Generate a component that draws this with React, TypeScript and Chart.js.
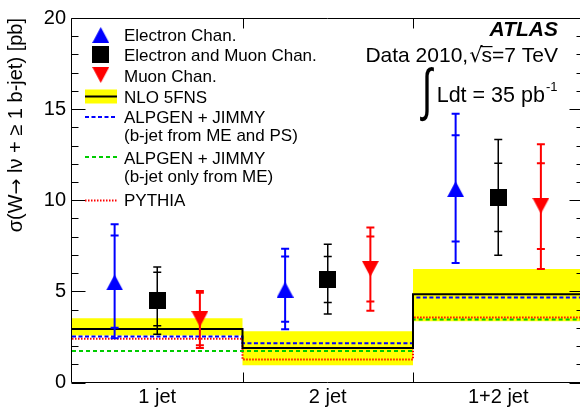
import React, { useEffect, useRef } from 'react';
import { Chart, registerables } from 'chart.js';

Chart.register(...registerables);

const FONT = '"Liberation Sans", Arial, Helvetica, sans-serif';
const SYMBOL_FONT = '"DejaVu Sans", "Liberation Sans", sans-serif';

// ---------- data ----------
const categories = ['1 jet', '2 jet', '1+2 jet'];
const binEdges = [0, 1, 2, 3];
const binCenters = [0.5, 1.5, 2.5];

const electronValues = [5.49, 5.09, 10.61];
const electronStatLow = [3.0, 3.34, 7.74];
const electronStatHigh = [8.06, 6.92, 13.56];
const electronTotalLow = [2.43, 2.92, 6.56];
const electronTotalHigh = [8.68, 7.34, 14.74];

const combinedValues = [4.5, 5.66, 10.14];
const combinedStatLow = [3.12, 4.39, 8.28];
const combinedStatHigh = [6.05, 6.92, 12.03];
const combinedTotalLow = [2.65, 3.76, 6.98];
const combinedTotalHigh = [6.34, 7.59, 13.34];

const muonValues = [3.49, 6.24, 9.7];
const muonStatLow = [2.05, 4.44, 7.32];
const muonStatHigh = [4.93, 8.01, 12.03];
const muonTotalLow = [1.89, 3.94, 6.23];
const muonTotalHigh = [5.02, 8.51, 13.07];

const nloCentral = [2.94, 1.89, 4.84];
const nloLow = [2.58, 0.95, 3.36];
const nloHigh = [3.52, 2.81, 6.23];
const alpgenMePs = [2.52, 2.16, 4.66];
const alpgenMe = [1.73, 1.73, 3.45];
const pythia = [2.4, 1.26, 3.57];

const yMin = 0;
const yMax = 20;
const yMajorStep = 5;
const yMinorStep = 1;

const legendLabels = [
  'Electron Chan.',
  'Electron and Muon Chan.',
  'Muon Chan.',
  'NLO 5FNS',
  'ALPGEN + JIMMY',
  '(b-jet from ME and PS)',
  'ALPGEN + JIMMY',
  '(b-jet only from ME)',
  'PYTHIA',
];

// y-axis title pieces: [text, useSymbolFont]
const yTitleParts: [string, boolean][] = [
  ['\u03C3(W', false],
  ['\u2192', true],
  [' l\u03BD + \u2265 1 b-jet) [pb]', false],
];

// ---------- helpers ----------
function toSteps(vals: number[]) {
  return binEdges.map((x, i) => ({ x, y: vals[Math.min(i, vals.length - 1)] }));
}

function makeMarker(shape: 'up' | 'down' | 'square', color: string) {
  const c = document.createElement('canvas');
  const w = 17;
  const h = shape === 'square' ? 17 : 16;
  c.width = w;
  c.height = h;
  const g = c.getContext('2d')!;
  g.fillStyle = color;
  g.beginPath();
  if (shape === 'up') {
    g.moveTo(w / 2, 0);
    g.lineTo(w, h);
    g.lineTo(0, h);
  } else if (shape === 'down') {
    g.moveTo(0, 0);
    g.lineTo(w, 0);
    g.lineTo(w / 2, h);
  } else {
    g.rect(0, 0, w, h);
  }
  g.closePath();
  g.fill();
  return c;
}

export default function App() {
  const canvasRef = useRef<HTMLCanvasElement | null>(null);

  useEffect(() => {
    const canvas = canvasRef.current;
    if (!canvas) return;

    const triUp = makeMarker('up', '#0000ff');
    const square = makeMarker('square', '#000000');
    const triDown = makeMarker('down', '#ff0000');

    const channels = [
      { values: electronValues, sl: electronStatLow, sh: electronStatHigh, tl: electronTotalLow, th: electronTotalHigh, color: '#0000ff', lw: 2, offset: -0.25, img: triUp },
      { values: combinedValues, sl: combinedStatLow, sh: combinedStatHigh, tl: combinedTotalLow, th: combinedTotalHigh, color: '#000000', lw: 1.5, offset: 0, img: square },
      { values: muonValues, sl: muonStatLow, sh: muonStatHigh, tl: muonTotalLow, th: muonTotalHigh, color: '#ff0000', lw: 2, offset: 0.25, img: triDown },
    ];

    const overlay = {
      id: 'overlay',
      afterDatasetsDraw(chart: any) {
        const { ctx, chartArea, scales } = chart;
        const xs = scales.x;
        const ys = scales.y;
        // error bars
        channels.forEach((ch) => {
          ctx.save();
          ctx.strokeStyle = ch.color;
          ctx.lineWidth = ch.lw;
          ch.values.forEach((_v: number, i: number) => {
            const px = xs.getPixelForValue(binCenters[i] + ch.offset);
            const yTop = ys.getPixelForValue(ch.th[i]);
            const yBot = ys.getPixelForValue(ch.tl[i]);
            ctx.beginPath();
            ctx.moveTo(px, yTop);
            ctx.lineTo(px, yBot);
            [ch.th[i], ch.sh[i], ch.sl[i], ch.tl[i]].forEach((val) => {
              const py = ys.getPixelForValue(val);
              ctx.moveTo(px - 4, py);
              ctx.lineTo(px + 4, py);
            });
            ctx.stroke();
          });
          ctx.restore();
        });

        // frame and ticks
        const L = Math.round(chartArea.left) - 0.5;
        const R = chartArea.right;
        const T = Math.round(chartArea.top) + 0.5;
        const B = Math.round(chartArea.bottom) - 0.5;
        ctx.save();
        ctx.strokeStyle = '#000';
        ctx.lineWidth = 1;
        ctx.beginPath();
        ctx.moveTo(L, T);
        ctx.lineTo(R, T);
        ctx.lineTo(R, B);
        ctx.lineTo(L, B);
        ctx.closePath();
        for (let v = yMin; v <= yMax; v += yMinorStep) {
          const py = Math.round(ys.getPixelForValue(v)) + 0.5;
          const len = v % yMajorStep === 0 ? 14 : 7;
          ctx.moveTo(L, py);
          ctx.lineTo(L + len, py);
          ctx.moveTo(R, py);
          ctx.lineTo(R - len, py);
        }
        binEdges.slice(1, -1).forEach((e) => {
          const px = Math.round(xs.getPixelForValue(e)) + 0.5;
          ctx.moveTo(px, T);
          ctx.lineTo(px, T + 10);
          ctx.moveTo(px, B);
          ctx.lineTo(px, B - 10);
        });
        ctx.stroke();
        ctx.restore();
      },
      afterDraw(chart: any) {
        const { ctx, chartArea } = chart;
        ctx.save();

        // y-axis title (rotated, end aligned with top of plot)
        ctx.fillStyle = '#000';
        ctx.textBaseline = 'middle';
        ctx.textAlign = 'left';
        const widths = yTitleParts.map(([t, sym]) => {
          ctx.font = sym ? `19px ${SYMBOL_FONT}` : `20px ${FONT}`;
          return ctx.measureText(t).width;
        });
        const total = widths.reduce((a, b) => a + b, 0);
        ctx.save();
        ctx.translate(16.5, chartArea.top + total);
        ctx.rotate(-Math.PI / 2);
        let cx = 0;
        yTitleParts.forEach(([t, sym], i) => {
          ctx.font = sym ? `19px ${SYMBOL_FONT}` : `20px ${FONT}`;
          ctx.fillText(t, cx, sym ? 1 : 0);
          cx += widths[i];
        });
        ctx.restore();

        // legend
        const mx = 100.7;
        const tx = 124;
        const baselines = [41, 61, 81.5, 102.5, 123, 141, 163.5, 182, 206];
        ctx.font = `17px ${FONT}`;
        ctx.fillStyle = '#000';
        ctx.textAlign = 'left';
        ctx.textBaseline = 'alphabetic';
        legendLabels.forEach((t, i) => ctx.fillText(t, tx, baselines[i]));
        ctx.drawImage(triUp, mx - 8.5, 35 - 8);
        ctx.drawImage(square, mx - 8.5, 54.5 - 8.5);
        ctx.drawImage(triDown, mx - 8.5, 75 - 8);
        // NLO
        ctx.fillStyle = '#ffff00';
        ctx.fillRect(85, 89.5, 32, 14);
        ctx.strokeStyle = '#000';
        ctx.lineWidth = 2;
        ctx.beginPath();
        ctx.moveTo(85, 96.5);
        ctx.lineTo(117, 96.5);
        ctx.stroke();
        // ALPGEN ME+PS
        ctx.strokeStyle = '#0000ff';
        ctx.setLineDash([4, 2.5]);
        ctx.beginPath();
        ctx.moveTo(85, 117);
        ctx.lineTo(117, 117);
        ctx.stroke();
        // ALPGEN ME
        ctx.strokeStyle = '#00cc00';
        ctx.setLineDash([4, 3]);
        ctx.beginPath();
        ctx.moveTo(85, 157);
        ctx.lineTo(117, 157);
        ctx.stroke();
        // PYTHIA
        ctx.strokeStyle = '#ff0000';
        ctx.setLineDash([1.5, 1.5]);
        ctx.beginPath();
        ctx.moveTo(85, 200.5);
        ctx.lineTo(117, 200.5);
        ctx.stroke();
        ctx.setLineDash([]);

        // ATLAS label
        ctx.fillStyle = '#000';
        ctx.textAlign = 'right';
        ctx.font = `italic bold 21px ${FONT}`;
        ctx.fillText('ATLAS', 558, 36);

        // Data 2010, sqrt(s)=7 TeV  (laid out right to left)
        const dBase = 62;
        ctx.textAlign = 'left';
        ctx.font = `21px ${FONT}`;
        const tail = 's=7 TeV';
        const tailW = ctx.measureText(tail).width;
        const tailX = 558 - tailW;
        ctx.fillText(tail, tailX, dBase);
        const sW = ctx.measureText('s').width;
        ctx.font = `21px ${SYMBOL_FONT}`;
        const rootW = ctx.measureText('\u221A').width;
        const rootX = tailX - rootW + 1;
        ctx.fillText('\u221A', rootX, dBase);
        ctx.font = `21px ${FONT}`;
        const headW = ctx.measureText('Data 2010,').width;
        ctx.fillText('Data 2010,', rootX - headW - 1, dBase);
        ctx.strokeStyle = '#000';
        ctx.lineWidth = 1.2;
        ctx.beginPath();
        ctx.moveTo(tailX - 1, 46.6);
        ctx.lineTo(tailX + sW + 0.5, 46.6);
        ctx.stroke();

        // luminosity
        const lBase = 101.5;
        ctx.textAlign = 'left';
        ctx.font = `21.5px ${FONT}`;
        const lum = 'Ldt = 35 pb';
        ctx.fillText(lum, 436.7, lBase);
        const lumW = ctx.measureText(lum).width;
        ctx.font = `13px ${FONT}`;
        ctx.fillText('-1', 436.7 + lumW + 1, 90.5);
        ctx.save();
        ctx.translate(422, 109);
        ctx.scale(0.85, 1.3);
        ctx.font = `44px ${FONT}`;
        ctx.fillText('\u222B', 0, 0);
        ctx.restore();
        ctx.restore();
      },
    };

    const lineBase = {
      type: 'line' as const,
      stepped: 'before' as const,
      pointRadius: 0,
      fill: false,
      borderWidth: 2,
    };

    const chart = new Chart(canvas, {
      type: 'scatter',
      data: {
        datasets: [
          { ...lineBase, label: 'NLO up', data: toSteps(nloHigh), borderWidth: 0, borderColor: 'rgba(0,0,0,0)', backgroundColor: '#ffff00', fill: '+1', order: 10 },
          { ...lineBase, label: 'NLO low', data: toSteps(nloLow), borderWidth: 0, borderColor: 'rgba(0,0,0,0)', order: 9 },
          { ...lineBase, label: 'PYTHIA', data: toSteps(pythia), borderColor: '#ff0000', borderDash: [1.5, 1.5], order: 8 },
          { ...lineBase, label: 'ALPGEN ME', data: toSteps(alpgenMe), borderColor: '#00cc00', borderDash: [4, 3], order: 7 },
          { ...lineBase, label: 'ALPGEN ME+PS', data: toSteps(alpgenMePs), borderColor: '#0000ff', borderDash: [4, 2.5], order: 6 },
          { ...lineBase, label: 'NLO 5FNS', data: toSteps(nloCentral), borderColor: '#000000', order: 5 },
          ...channels.map((ch, k) => ({
            type: 'scatter' as const,
            label: legendLabels[k],
            data: ch.values.map((v, i) => ({ x: binCenters[i] + ch.offset, y: v })),
            pointStyle: ch.img,
            pointRadius: 8,
            showLine: false,
            order: 2 - k,
          })),
        ] as any,
      },
      options: {
        responsive: false,
        animation: false,
        devicePixelRatio: 1,
        layout: { padding: { left: 0, top: 14, right: 16.5, bottom: 0 } },
        plugins: { legend: { display: false }, tooltip: { enabled: false } },
        scales: {
          x: {
            type: 'linear',
            min: binEdges[0],
            max: binEdges[binEdges.length - 1],
            afterFit: (s: any) => { s.height = 29.5; },
            afterBuildTicks: (s: any) => { s.ticks = binCenters.map((v) => ({ value: v })); },
            ticks: {
              autoSkip: false,
              maxRotation: 0,
              color: '#000',
              padding: 3,
              font: { family: FONT, size: 20 },
              callback: (_v: any, i: number) => categories[i],
            },
            grid: { display: false, drawTicks: false },
            border: { display: false },
          },
          y: {
            min: yMin,
            max: yMax,
            afterFit: (s: any) => { s.width = 72; },
            ticks: { stepSize: yMajorStep, color: '#000', padding: 6, font: { family: FONT, size: 20 } },
            grid: { display: false, drawTicks: false },
            border: { display: false },
          },
        },
      } as any,
      plugins: [overlay],
    });

    return () => chart.destroy();
  }, []);

  return (
    <div style={{ position: 'fixed', left: 0, top: 0, width: 580, height: 412, overflow: 'hidden', background: '#fff' }}>
      <canvas ref={canvasRef} width={600} height={412} style={{ display: 'block', width: 600, height: 412 }} />
    </div>
  );
}
